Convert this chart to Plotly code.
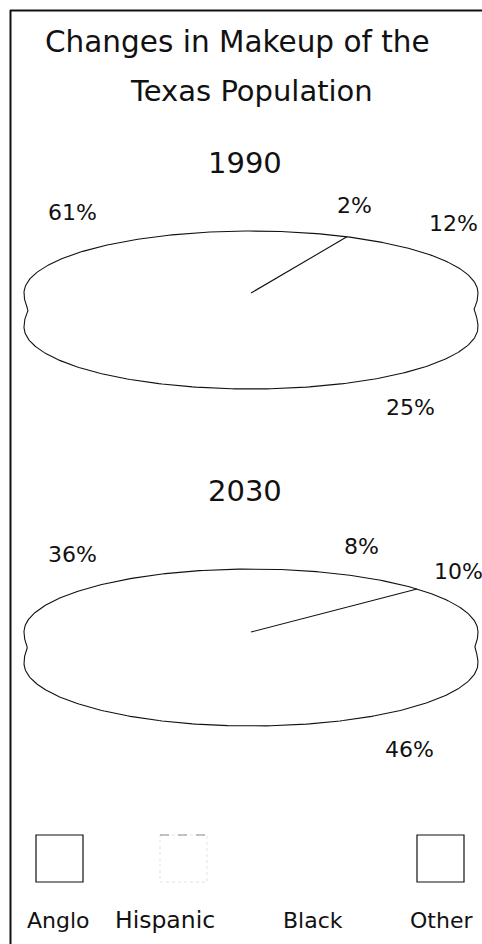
import numpy as np
import plotly.graph_objects as go

# Population shares (percent) by group
categories = ["Anglo", "Hispanic", "Black", "Other"]
years = ["1990", "2030"]
share_1990 = [61, 25, 12, 2]
share_2030 = [36, 46, 10, 8]
shares = {"1990": share_1990, "2030": share_2030}

W, H = 482, 944
FONT = "DejaVu Sans"
INK = "#111111"

# Tilted-pie geometry (pixel space): centre, half-width, half-height, rim depth, start angle
pie_geom = {
    "1990": dict(cx=251, cy=293, a=227, b=62, depth=34, start=65, title_y=163),
    "2030": dict(cx=251, cy=632, a=227, b=63, depth=31, start=43, title_y=491),
}
# Where each percentage label sits, per year, in category order
label_pos = {
    "1990": [(72, 212), (410, 407), (453, 223), (354, 205)],
    "2030": [(72, 554), (409, 749), (458, 571), (361, 546)],
}
NOTCH = 0.5  # how far the rim seam pinches inward, relative to a full ellipse overlap

fig = go.Figure()


def ellipse_pts(cx, cy, a, b, t0, t1, n=120):
    t = np.linspace(t0, t1, n)
    return cx + a * np.cos(t), cy - b * np.sin(t)


def rim_side(cx, cy, a, b, d, side, n=60):
    # side edge of the rim with a slight pinch where the top face meets the wall
    y = np.linspace(cy, cy + d, n)
    u = np.minimum(y - cy, cy + d - y)
    inset = NOTCH * a * (1 - np.sqrt(np.clip(1 - (u / b) ** 2, 0, 1)))
    x = cx + side * (a - inset)
    return x, y


for yr in years:
    g = pie_geom[yr]
    cx, cy, a, b, d = g["cx"], g["cy"], g["a"], g["b"], g["depth"]
    vals = shares[yr]
    total = float(sum(vals))

    # slices on the top face, laid out counter-clockwise from the start angle
    ang = np.radians(g["start"])
    for cat, v in zip(categories, vals):
        sweep = 2 * np.pi * v / total
        xs, ys = ellipse_pts(cx, cy, a, b, ang, ang + sweep, 60)
        fig.add_trace(go.Scatter(
            x=np.concatenate([[cx], xs, [cx]]),
            y=np.concatenate([[cy], ys, [cy]]),
            mode="lines", fill="toself", fillcolor="white",
            line=dict(width=0), name=f"{cat} {yr}", showlegend=False,
            hoverinfo="name"))
        ang += sweep

    # outline: upper half of the top face, left wall, lower half of the base, right wall
    tx, ty = ellipse_pts(cx, cy, a, b, 0, np.pi, 200)
    lx, ly = rim_side(cx, cy, a, b, d, -1)
    bx, by = ellipse_pts(cx, cy + d, a, b, np.pi, 2 * np.pi, 200)
    rx, ry = rim_side(cx, cy, a, b, d, 1)
    fig.add_trace(go.Scatter(
        x=np.concatenate([tx, lx, bx, rx[::-1]]),
        y=np.concatenate([ty, ly, by, ry[::-1]]),
        mode="lines", line=dict(color=INK, width=1.1),
        showlegend=False, hoverinfo="skip"))

    # boundary where the Anglo slice begins
    s = np.radians(g["start"])
    fig.add_trace(go.Scatter(
        x=[cx, cx + a * np.cos(s)], y=[cy, cy - b * np.sin(s)],
        mode="lines", line=dict(color=INK, width=1.1),
        showlegend=False, hoverinfo="skip"))

    # year heading
    fig.add_annotation(x=cx - 6, y=g["title_y"], text=yr, showarrow=False,
                       xanchor="center", yanchor="middle",
                       font=dict(family=FONT, size=29, color=INK))
    # percentage labels
    for (lx0, ly0), v in zip(label_pos[yr], vals):
        fig.add_annotation(x=lx0, y=ly0, text=f"{v}%", showarrow=False,
                           xanchor="center", yanchor="middle",
                           font=dict(family=FONT, size=22, color=INK))

# title
fig.add_annotation(x=237, y=42, text="Changes in Makeup of the", showarrow=False,
                   xanchor="center", yanchor="middle",
                   font=dict(family=FONT, size=29.5, color=INK))
fig.add_annotation(x=251, y=91, text="Texas Population", showarrow=False,
                   xanchor="center", yanchor="middle",
                   font=dict(family=FONT, size=29, color=INK))

# key: swatch boxes and names
key_box_x = [36, 160, 291, 417]
key_text_x = [58, 165, 313, 441]
key_text_size = [22, 23.5, 22, 22]
key_line = [dict(color=INK, width=1.2),
            dict(color="#e2e2e2", width=1, dash="dot"),
            dict(color="white", width=0),
            dict(color=INK, width=1.2)]
for cat, bx0, tx0, fs, ln in zip(categories, key_box_x, key_text_x,
                                 key_text_size, key_line):
    fig.add_shape(type="rect", x0=bx0, x1=bx0 + 47, y0=835, y1=882,
                  line=ln, fillcolor="white", layer="above")
    fig.add_annotation(x=tx0, y=920, text=cat, showarrow=False,
                       xanchor="center", yanchor="middle",
                       font=dict(family=FONT, size=fs, color=INK))
# the Hispanic swatch keeps only a faint dashed top edge
fig.add_shape(type="line", x0=key_box_x[1], x1=key_box_x[1] + 47, y0=835, y1=835,
              line=dict(color="#8a8a8a", width=1, dash="dash"), layer="above")

# frame rules along the top and left
fig.add_shape(type="line", x0=10, x1=W, y0=10.5, y1=10.5,
              line=dict(color=INK, width=2))
fig.add_shape(type="line", x0=10.5, x1=10.5, y0=10, y1=H,
              line=dict(color=INK, width=2))

fig.update_layout(
    width=W, height=H, margin=dict(l=0, r=0, t=0, b=0),
    paper_bgcolor="white", plot_bgcolor="white",
    xaxis=dict(range=[0, W], visible=False, fixedrange=True),
    yaxis=dict(range=[H, 0], visible=False, fixedrange=True),
    showlegend=False,
)

fig.write_html("out.html")
